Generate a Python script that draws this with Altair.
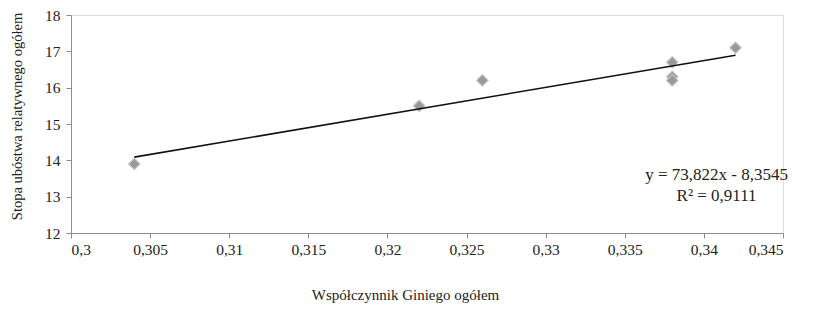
import altair as alt
import pandas as pd

gini = [0.304, 0.322, 0.326, 0.338, 0.338, 0.338, 0.342]
poverty = [13.9, 15.5, 16.2, 16.7, 16.3, 16.2, 17.1]

eq_lines = ["y = 73,822x - 8,3545", "R² = 0,9111"]
eq_x = [0.3408, 0.3408]
eq_y = [13.6, 13.02]

df = pd.DataFrame({"x": gini, "y": poverty})
eq = pd.DataFrame({"t": eq_lines, "x": eq_x, "y": eq_y})

FONT = "Liberation Serif"
GREY = "#8c8c8c"

xscale = alt.Scale(domain=[0.3, 0.345], nice=False, zero=False)
yscale = alt.Scale(domain=[12, 18], nice=False, zero=False)

xaxis = alt.Axis(
    values=[0.3, 0.305, 0.31, 0.315, 0.32, 0.325, 0.33, 0.335, 0.34, 0.345],
    labelExpr="replace(format(datum.value, '.3~f'), '.', ',')",
    labelOverlap=False, labelFont=FONT, labelFontSize=15.5, labelPadding=4,
    title="Współczynnik Giniego ogółem", titlePadding=30,
    titleFont=FONT, titleFontSize=15, titleX=334, titleAnchor="middle",
)
yaxis = alt.Axis(
    values=[12, 13, 14, 15, 16, 17, 18],
    labelOverlap=False, labelPadding=6, labelFont=FONT, labelFontSize=15.5,
    title="Stopa ubóstwa relatywnego ogółem", titlePadding=20,
    titleFont=FONT, titleFontSize=14.5, titleY=101, titleAnchor="middle",
)

X = alt.X("x:Q", scale=xscale, axis=xaxis)
Y = alt.Y("y:Q", scale=yscale, axis=yaxis)

points = alt.Chart(df).mark_point(
    shape="diamond", filled=True, size=130, color="#999999",
    stroke="#c4c4c4", strokeWidth=1.2, opacity=1
).encode(x=X, y=Y)

trend = alt.Chart(df).transform_regression("x", "y").mark_line(
    color="#111111", strokeWidth=1.6
).encode(x=X, y=Y)

text = alt.Chart(eq).mark_text(
    font=FONT, fontSize=17, color="#222", align="center", baseline="middle"
).encode(x=X, y=Y, text="t:N")

chart = alt.layer(points, trend, text).properties(
    width=712, height=218,
    autosize=alt.AutoSizeParams(type="none"),
    padding={"left": 63, "top": 7, "right": 41, "bottom": 80},
).configure_view(stroke=None).configure(background="white").configure_axis(
    grid=False, domainColor=GREY, tickColor=GREY, tickSize=5,
    labelColor="#222", titleFontWeight="normal", titleColor="#222",
)

chart.save("out.html", embed_options={"renderer": "svg", "actions": False})
